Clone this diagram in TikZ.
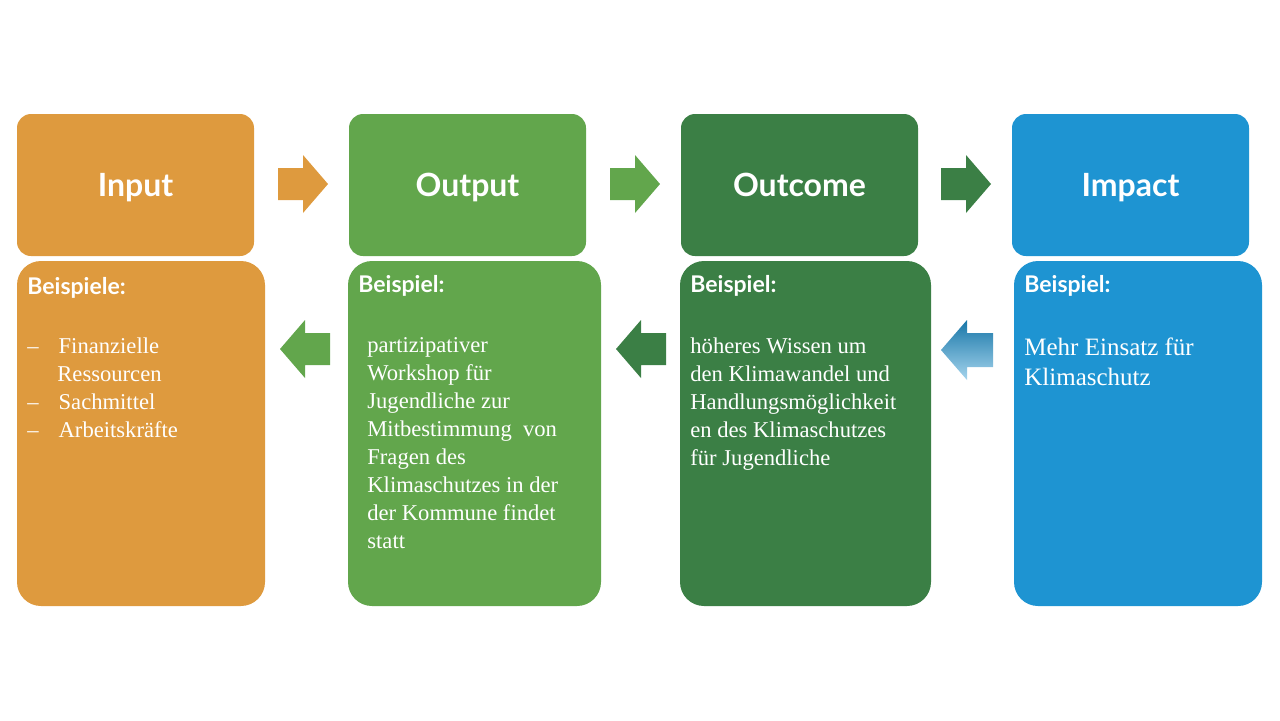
\documentclass[tikz,border=0pt]{standalone}
\usepackage{fontspec}
\setmainfont{Liberation Serif}
\newfontfamily\headfont{Lato}
\usetikzlibrary{positioning}
\definecolor{cInput}{HTML}{DE9A3E}
\definecolor{cOutput}{HTML}{62A64C}
\definecolor{cOutcome}{HTML}{3B7F45}
\definecolor{cImpact}{HTML}{1E94D2}
\tikzset{
    head/.style={text=white, text height=11pt, text depth=0pt, font=\headfont\bfseries\fontsize{16}{18}\selectfont},
    body/.style={rounded corners=12pt},
    btext/.style={anchor=north west, text=white, align=left, inner sep=0pt, font=\fontsize{11.3}{14}\selectfont},
    blabel/.style={anchor=north west, text=white, inner sep=0pt, font=\headfont\bfseries\fontsize{11.5}{13}\selectfont}}
\begin{document}
\begin{tikzpicture}[x=0.5pt,y=-0.5pt]
\useasboundingbox (0,0) rectangle (1280,720);
% upper boxes
\fill[cInput,rounded corners=7pt] (17,114) rectangle (254,256);
\fill[cOutput,rounded corners=7pt] (349,114) rectangle (586,256);
\fill[cOutcome,rounded corners=7pt] (681,114) rectangle (918,256);
\fill[cImpact,rounded corners=7pt] (1012,114) rectangle (1249,256);
\node[head] (input) at (135.5,185) {Input};
\node[head] (output) at (467.5,185) {Output};
\node[head] (outcome) at (799.5,185) {Outcome};
\node[head] (impact) at (1130.5,185) {Impact};
% lower boxes
\fill[cInput,body] (17,261) rectangle (265,606);
\fill[cOutput,body] (348,261) rectangle (601,606);
\fill[cOutcome,body] (680,261) rectangle (931,606);
\fill[cImpact,body] (1014,261) rectangle (1262,606);
\node[blabel] (lab1) at (27,277) {Beispiele:};
\node[blabel] (lab2) at (358,275) {Beispiel:};
\node[blabel] (lab3) at (690,275) {Beispiel:};
\node[blabel] (lab4) at (1024,275) {Beispiel:};
\node[btext] (txt1) at (27,337) {--\hspace{10pt}Finanzielle\\\hspace{15pt}Ressourcen\\--\hspace{10pt}Sachmittel\\--\hspace{10pt}Arbeitskräfte};
\node[btext] (txt2) at (367,337) {partizipativer\\Workshop für\\Jugendliche zur\\Mitbestimmung\ \ von\\Fragen des\\Klimaschutzes in der\\der Kommune findet\\statt};
\node[btext] (txt3) at (690,337) {höheres Wissen\ um\\den Klimawandel und\\Handlungsmöglichkeit\\en des Klimaschutzes\\für Jugendliche};
\node[btext,font=\fontsize{12.5}{15}\selectfont] (txt4) at (1024,337) {Mehr Einsatz für\\Klimaschutz};
% right arrows
\fill[cInput] (278,168) -- (303,168) -- (303,155) -- (328,184) -- (303,213) -- (303,200) -- (278,200) -- cycle;
\fill[cOutput] (610,168) -- (635,168) -- (635,155) -- (660,184) -- (635,213) -- (635,200) -- (610,200) -- cycle;
\fill[cOutcome] (941,168) -- (966,168) -- (966,155) -- (991,184) -- (966,213) -- (966,200) -- (941,200) -- cycle;
% left arrows
\fill[cOutput] (330,333) -- (305,333) -- (305,320) -- (280,349) -- (305,378) -- (305,365) -- (330,365) -- cycle;
\fill[cOutcome] (666,333) -- (641,333) -- (641,320) -- (616,349) -- (641,378) -- (641,365) -- (666,365) -- cycle;
\shade[top color=cImpact!80!black,bottom color=cImpact!40] (993,333) -- (967,333) -- (967,320) -- (941,350) -- (967,380) -- (967,367) -- (993,367) -- cycle;
\end{tikzpicture}
\end{document}
